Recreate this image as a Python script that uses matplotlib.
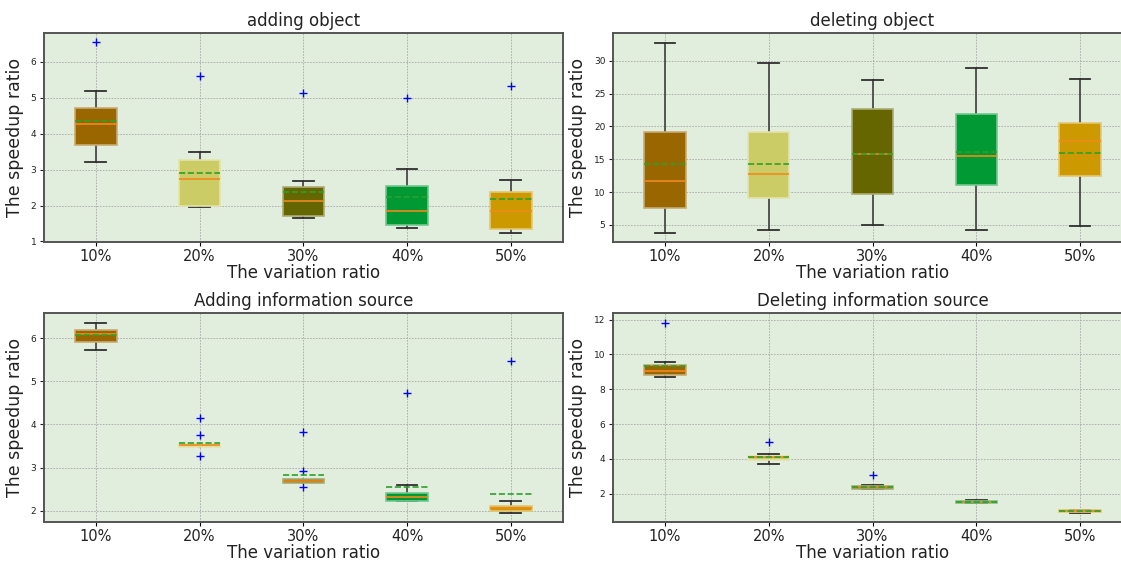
import matplotlib
matplotlib.use("Agg")
import matplotlib.pyplot as plt
import matplotlib.colors as mcolors

categories = ["10%", "20%", "30%", "40%", "50%"]
box_colors = ["#996600", "#cccc66", "#666600", "#009933", "#cc9900"]

# adding object
ao_whislo = [3.20, 1.95, 1.64, 1.38, 1.25]
ao_q1 = [3.68, 2.00, 1.71, 1.45, 1.36]
ao_med = [4.26, 2.73, 2.14, 1.84, 1.86]
ao_mean = [4.35, 2.91, 2.38, 2.23, 2.17]
ao_q3 = [4.72, 3.28, 2.53, 2.54, 2.38]
ao_whishi = [5.19, 3.50, 2.68, 3.03, 2.71]
ao_fliers = [[6.54], [5.60], [5.13], [4.99], [5.34]]

# deleting object
do_whislo = [3.84, 4.19, 5.00, 4.24, 4.90]
do_q1 = [7.59, 9.11, 9.77, 11.08, 12.50]
do_med = [11.69, 12.71, 15.75, 15.45, 17.77]
do_mean = [14.28, 14.34, 15.86, 16.16, 15.95]
do_q3 = [19.20, 19.20, 22.70, 21.94, 20.50]
do_whishi = [32.78, 29.70, 27.05, 28.87, 27.26]
do_fliers = [[], [], [], [], []]

# Adding information source
ai_whislo = [5.72, 3.50, 2.67, 2.22, 1.96]
ai_q1 = [5.92, 3.48, 2.65, 2.23, 2.00]
ai_med = [6.10, 3.52, 2.69, 2.31, 2.06]
ai_mean = [6.06, 3.58, 2.82, 2.56, 2.39]
ai_q3 = [6.19, 3.55, 2.74, 2.42, 2.12]
ai_whishi = [6.36, 3.53, 2.72, 2.59, 2.22]
ai_fliers = [[], [4.15, 3.75, 3.28], [3.83, 2.92, 2.56], [4.73], [5.47]]

# Deleting information source
di_whislo = [8.70, 3.73, 2.27, 1.45, 0.93]
di_q1 = [8.79, 3.95, 2.28, 1.47, 0.94]
di_med = [9.06, 4.09, 2.38, 1.55, 1.00]
di_mean = [9.36, 4.14, 2.42, 1.56, 1.01]
di_q3 = [9.42, 4.18, 2.46, 1.60, 1.05]
di_whishi = [9.55, 4.28, 2.51, 1.62, 1.08]
di_fliers = [[11.83], [5.00], [3.06], [], []]

titles = ["adding object", "deleting object",
          "Adding information source", "Deleting information source"]
xlabel = "The variation ratio"
ylabel = "The speedup ratio"

panels = [
    (ao_whislo, ao_q1, ao_med, ao_mean, ao_q3, ao_whishi, ao_fliers),
    (do_whislo, do_q1, do_med, do_mean, do_q3, do_whishi, do_fliers),
    (ai_whislo, ai_q1, ai_med, ai_mean, ai_q3, ai_whishi, ai_fliers),
    (di_whislo, di_q1, di_med, di_mean, di_q3, di_whishi, di_fliers),
]

W, H = 1121, 562
fig = plt.figure(figsize=(W / 100, H / 100), dpi=100)

# axes rectangles in pixels: left, top, right, bottom
rects = [(44, 33, 562.7, 242), (613, 33, 1132, 242),
         (44, 313, 562.7, 522), (613, 313, 1132, 522)]

def lighten(c, f=0.5):
    r, g, b = mcolors.to_rgb(c)
    return (r + (1 - r) * f, g + (1 - g) * f, b + (1 - b) * f)

for (l, t, r, b), title, data in zip(rects, titles, panels):
    ax = fig.add_axes([l / W, 1 - b / H, (r - l) / W, (b - t) / H])
    ax.set_facecolor("#e2eedd")
    wl, q1, med, mean, q3, wh, fl = data
    stats = []
    for i in range(len(categories)):
        stats.append(dict(whislo=wl[i], q1=q1[i], med=med[i], mean=mean[i],
                          q3=q3[i], whishi=wh[i], fliers=fl[i],
                          label=categories[i]))
    bp = ax.bxp(stats, positions=range(1, 6), widths=0.4, patch_artist=True,
                showmeans=True, meanline=True,
                flierprops=dict(marker="+", markeredgecolor="blue",
                                markersize=6, linestyle="none"),
                medianprops=dict(color="#f08a1c", linewidth=1.2),
                meanprops=dict(color="#2ca02c", linestyle="--", linewidth=1.2),
                whiskerprops=dict(color="#4a4a4a", linewidth=1.3),
                capprops=dict(color="#303030", linewidth=1.3),
                zorder=3)
    for patch, c in zip(bp["boxes"], box_colors):
        patch.set_facecolor(c)
        patch.set_edgecolor(lighten(c, 0.45))
        patch.set_linewidth(1.2)
        patch.set_zorder(3.2)
    for line in bp["medians"] + bp["means"]:
        line.set_zorder(3.4)
    for line in bp["whiskers"] + bp["caps"]:
        line.set_zorder(3.0)
    ax.set_axisbelow(True)
    ax.grid(True, linestyle="--", linewidth=0.6, color="#a8a8a8", dashes=(2, 1.5))
    ax.set_xlim(0.5, 5.5)
    ax.set_xticks(range(1, 6))
    ax.set_xticklabels(categories, fontsize=10.5, color="#222222")
    ax.tick_params(axis="y", labelsize=6.5, length=3, pad=2.5, colors="#222222")
    ax.tick_params(axis="x", length=3, pad=2)
    ax.set_title(title, fontsize=12, color="#222222", pad=5)
    ax.set_xlabel(xlabel, fontsize=12, labelpad=0, color="#222222")
    ax.set_ylabel(ylabel, fontsize=12.5, color="#222222", labelpad=5)
    for s in ax.spines.values():
        s.set_color("#555555")
        s.set_linewidth(1.4)

fig.savefig("out.png", dpi=100)
